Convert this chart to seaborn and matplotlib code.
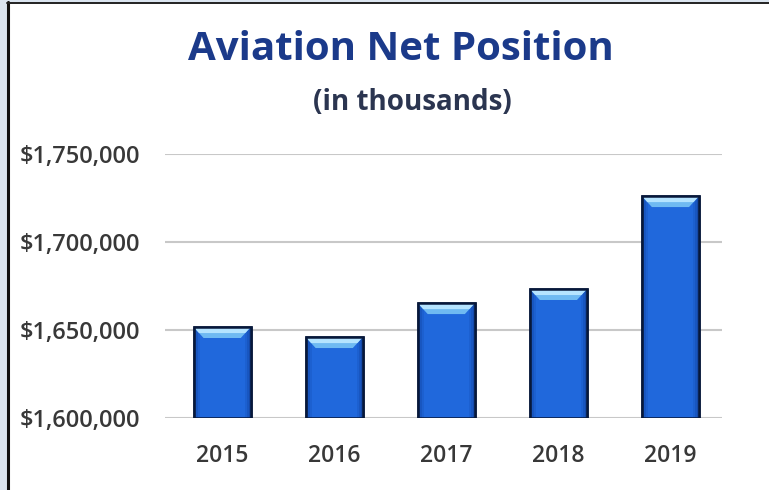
import matplotlib
matplotlib.use("Agg")
import matplotlib.pyplot as plt
import seaborn as sns
import pandas as pd
from matplotlib.patches import Rectangle, Polygon
from matplotlib.lines import Line2D
from matplotlib.ticker import FuncFormatter

# ---- data ----
years = ["2015", "2016", "2017", "2018", "2019"]
net_position = [1651700, 1646000, 1665300, 1673300, 1726100]
y_ticks = [1600000, 1650000, 1700000, 1750000]
title = "Aviation Net Position"
subtitle = "(in thousands)"

sns.set_theme(style="white")
plt.rcParams['font.family'] = ['Open Sans', 'DejaVu Sans']

W, H = 769, 490
fig = plt.figure(figsize=(W / 100, H / 100), dpi=100)
fig.patch.set_facecolor('white')

ax = fig.add_axes([165 / W, 72 / H, (722 - 165) / W, (418 - 154) / H])
df = pd.DataFrame({"year": years, "value": net_position})
sns.barplot(data=df, x="year", y="value", ax=ax, color="#2068dc", width=0.51,
            edgecolor="#07183a", linewidth=1.8, saturation=1, zorder=3)
ax.set_ylim(y_ticks[0], y_ticks[-1])
ax.set_xlim(-0.51, 4.46)
ax.set_yticks(y_ticks)
ax.yaxis.set_major_formatter(FuncFormatter(lambda v, p: f"${v:,.0f}"))
ax.grid(axis='y', color='#c8c8c8', lw=1.5)
ax.grid(axis='x', visible=False)
ax.set_axisbelow(True)
for s in ax.spines.values():
    s.set_visible(False)
ax.tick_params(axis='both', length=0, labelcolor='#383838')
ax.tick_params(axis='y', pad=18, labelsize=17)
ax.tick_params(axis='x', pad=19, labelsize=16.5)
ax.set_xlabel('')
ax.set_ylabel('')
for lbl in ax.get_xticklabels() + ax.get_yticklabels():
    lbl.set_fontweight('semibold')

# bevel highlight and side shading (derived from bar geometry)
ax_h_px = (418 - 154)
ax_w_px = (722 - 165)
py = (y_ticks[-1] - y_ticks[0]) / ax_h_px
px = (4.46 + 0.51) / ax_w_px
dy = 11 * py
dx = 10 * px
for p in list(ax.patches):
    x0, w = p.get_x(), p.get_width()
    top = p.get_y() + p.get_height()
    h = top - y_ticks[0]
    for k, c in enumerate(['#1549a8', '#1856c0', '#1c60d0']):
        ax.add_patch(Rectangle((x0 + k * 2 * px, y_ticks[0]), 2 * px, h, facecolor=c, edgecolor='none', zorder=3.5))
        ax.add_patch(Rectangle((x0 + w - (k + 1) * 2 * px, y_ticks[0]), 2 * px, h, facecolor=c, edgecolor='none', zorder=3.5))
    ax.add_patch(Polygon([(x0, top), (x0 + w, top), (x0 + w - dx, top - dy), (x0 + dx, top - dy)],
                         closed=True, facecolor='#6fbaf2', edgecolor='none', zorder=4))
    ax.add_patch(Polygon([(x0, top), (x0 + w, top), (x0 + w - dx * 0.55, top - dy * 0.55), (x0 + dx * 0.55, top - dy * 0.55)],
                         closed=True, facecolor='#b5e4ff', edgecolor='none', zorder=4))
    ax.add_patch(Rectangle((x0, y_ticks[0]), w, h, fill=False,
                           edgecolor='#07183a', lw=1.8, zorder=5))

# titles
fig.text(401 / W, 1 - 60 / H, title, ha='center', va='baseline', fontsize=29,
         fontweight='bold', color='#1b3a8a')
fig.text(412 / W, 1 - 102 / H, subtitle, ha='center', va='center', fontsize=20,
         fontweight='bold', color='#2b3550')

# frame decorations
fig.add_artist(Rectangle((0, 0), 6 / W, 1, transform=fig.transFigure, color='#dbe5f0', zorder=0))
fig.add_artist(Rectangle((0, 1 - 2 / H), 1, 2 / H, transform=fig.transFigure, color='#dbe5f0', zorder=0))
fig.add_artist(Line2D([7.5 / W, 7.5 / W], [0, 1 - 2 / H], transform=fig.transFigure, color='#111111', lw=2.2))
fig.add_artist(Line2D([6.5 / W, 1], [1 - 3.5 / H, 1 - 3.5 / H], transform=fig.transFigure, color='#222222', lw=1.4))

fig.savefig("out.png", dpi=100)
